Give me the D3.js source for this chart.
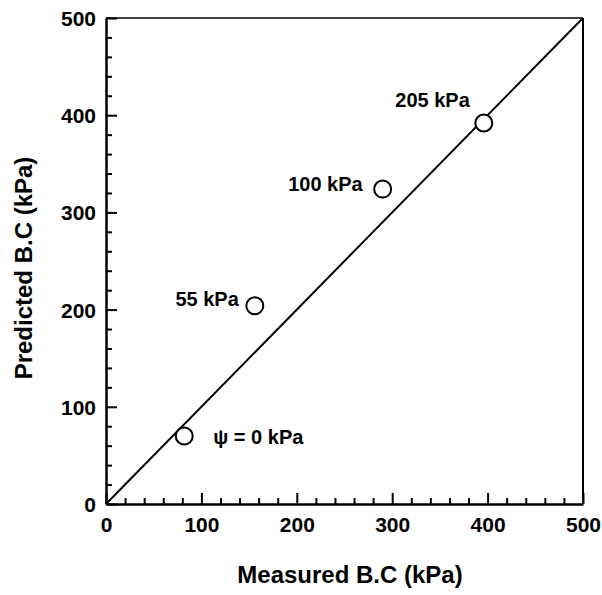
<!DOCTYPE html>
<html>
<head>
<meta charset="utf-8">
<script src="https://cdn.jsdelivr.net/npm/d3@7"></script>
<style>
  body { margin: 0; background: #fff; }
  svg text { font-family: "Liberation Sans", Arial, sans-serif; font-weight: bold; fill: #000; }
</style>
</head>
<body>
<svg id="chart" width="602" height="595"></svg>
<script>
// Data
const measured = [82, 156, 290, 396];
const predicted = [70, 204, 324, 392];
const pointLabels = ["\u03C8 = 0 kPa", "55 kPa", "100 kPa", "205 kPa"];
const tickValues = [0, 100, 200, 300, 400, 500];

const svg = d3.select("#chart");
const margin = { left: 106, right: 19, top: 18, bottom: 91 };
const width = 602 - margin.left - margin.right;
const height = 595 - margin.top - margin.bottom;

const x = d3.scaleLinear().domain([0, 500]).range([0, width]);
const y = d3.scaleLinear().domain([0, 500]).range([height, 0]);

const g = svg.append("g").attr("transform", `translate(${margin.left},${margin.top})`);

//Top and right frame lines
g.append("line").attr("x1", 0).attr("x2", width).attr("y1", 0).attr("y2", 0)
  .attr("stroke", "#000").attr("stroke-width", 1.5);
g.append("line").attr("x1", width).attr("x2", width).attr("y1", 0).attr("y2", height)
  .attr("stroke", "#000").attr("stroke-width", 2);

//Minor ticks every 20, inward
const minor = d3.range(0, 501, 20).filter((v) => v % 100 !== 0);
const xMinor = d3.axisBottom(x).tickValues(minor).tickSize(-6).tickFormat("");
const yMinor = d3.axisLeft(y).tickValues(minor).tickSize(-6).tickFormat("");
g.append("g").attr("transform", `translate(0,${height})`).call(xMinor)
  .call((a) => a.select(".domain").remove())
  .selectAll("line").attr("stroke-width", 2);
g.append("g").call(yMinor)
  .call((a) => a.select(".domain").remove())
  .selectAll("line").attr("stroke-width", 2);

//Major axes
const xAxis = d3.axisBottom(x).tickValues(tickValues).tickSizeInner(-11).tickSizeOuter(0).tickPadding(13);
const yAxis = d3.axisLeft(y).tickValues(tickValues).tickSizeInner(-11).tickSizeOuter(0).tickPadding(10);
const gx = g.append("g").attr("transform", `translate(0,${height})`).call(xAxis);
const gy = g.append("g").call(yAxis);
[gx, gy].forEach((a) => {
  a.attr("font-size", null).attr("font-family", null);
  a.select(".domain").attr("stroke-width", 2.5);
  a.selectAll(".tick line").attr("stroke-width", 2);
  a.selectAll("text").style("font-size", "21px");
});
gx.selectAll("text").attr("dy", "0.71em");
gy.selectAll("text").attr("dy", "0.36em");

//1:1 line
g.append("line")
  .attr("x1", x(0)).attr("y1", y(0)).attr("x2", x(500)).attr("y2", y(500))
  .attr("stroke", "#000").attr("stroke-width", 2);

//Points
const pts = measured.map((m, i) => ({ m: m, p: predicted[i], label: pointLabels[i] }));
g.selectAll("circle.pt").data(pts).enter().append("circle")
  .attr("class", "pt")
  .attr("cx", (d) => x(d.m)).attr("cy", (d) => y(d.p)).attr("r", 8.5)
  .attr("fill", "#fff").attr("stroke", "#000").attr("stroke-width", 2);

//Point labels
const labelOffset = [
  { dx: 29, dy: 8, anchor: "start" },
  { dx: -16, dy: 0, anchor: "end" },
  { dx: -20, dy: 2, anchor: "end" },
  { dx: -14, dy: -16, anchor: "end" },
];
g.selectAll("text.pl").data(pts).enter().append("text")
  .attr("class", "pl")
  .attr("x", (d, i) => x(d.m) + labelOffset[i].dx)
  .attr("y", (d, i) => y(d.p) + labelOffset[i].dy)
  .attr("text-anchor", (d, i) => labelOffset[i].anchor)
  .style("font-size", "20px")
  .text((d) => d.label);

//Axis titles
svg.append("text")
  .attr("x", 350).attr("y", 583)
  .attr("text-anchor", "middle").style("font-size", "24px")
  .text("Measured B.C (kPa)");
svg.append("text")
  .attr("transform", "translate(32,268) rotate(-90)")
  .attr("text-anchor", "middle").style("font-size", "24px")
  .text("Predicted B.C (kPa)");
</script>
</body>
</html>
